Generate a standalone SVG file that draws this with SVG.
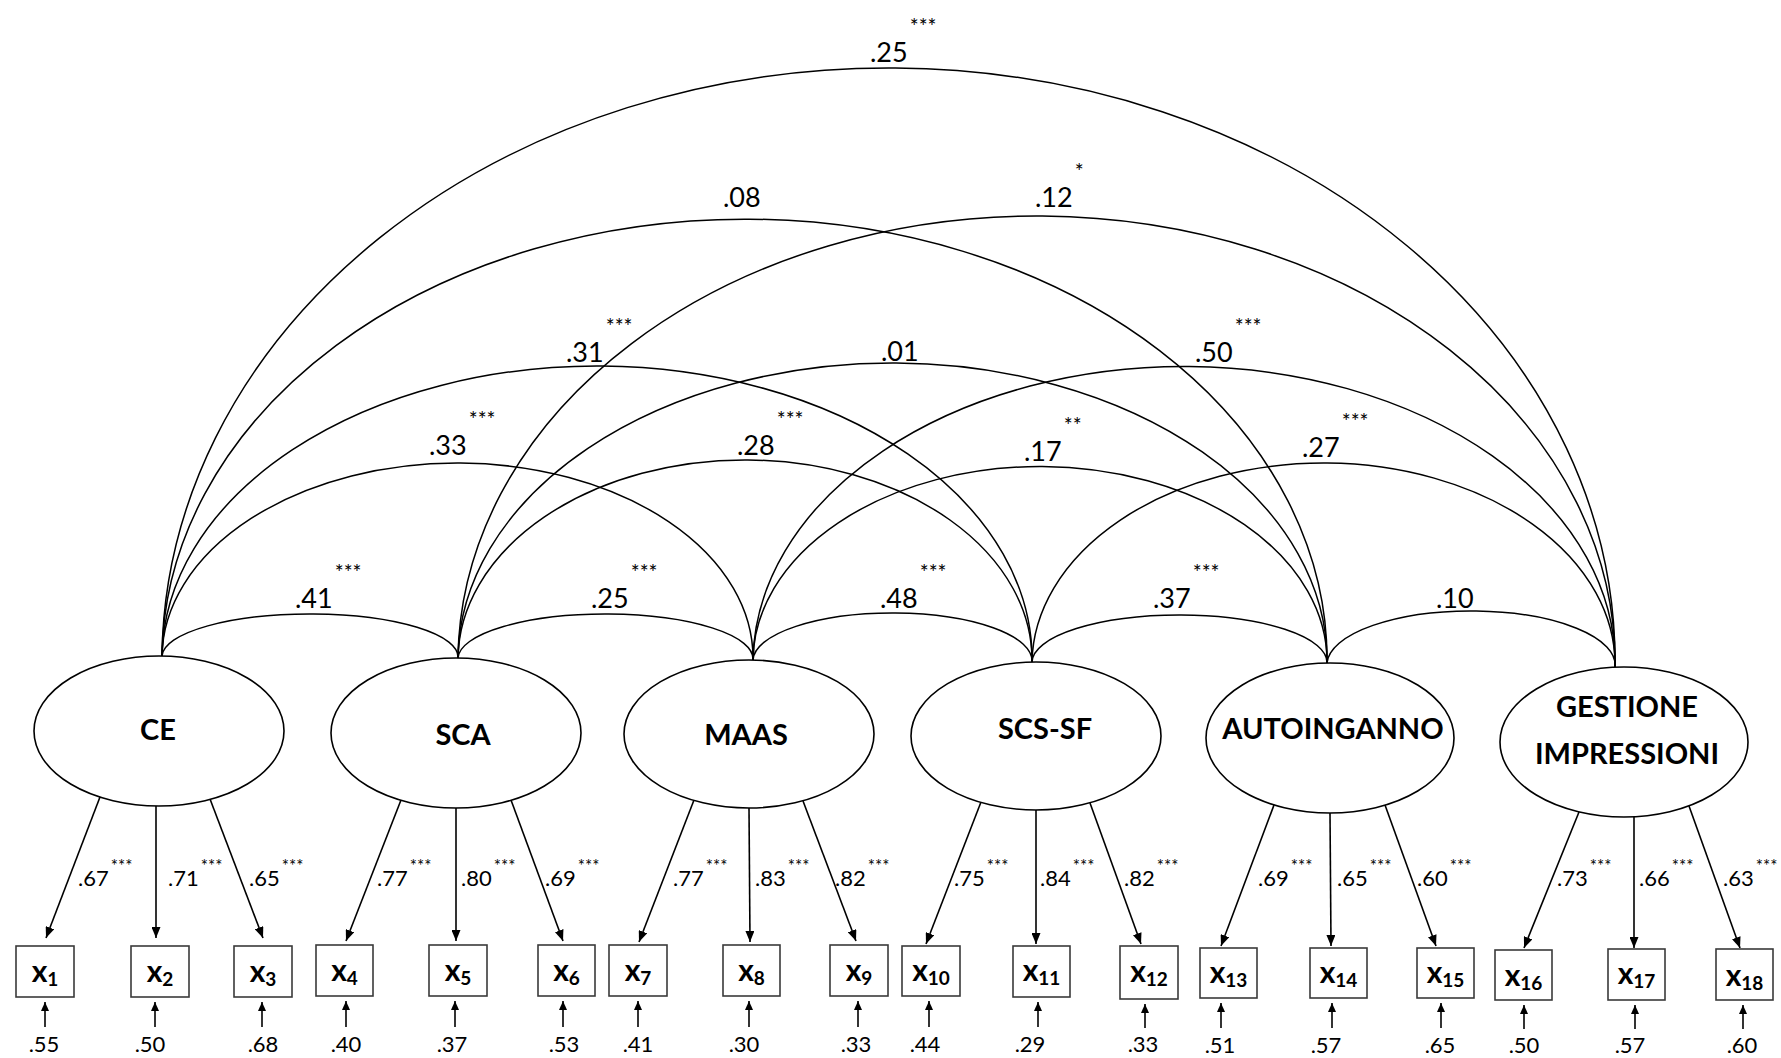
<svg xmlns="http://www.w3.org/2000/svg" width="1781" height="1058" viewBox="0 0 1781 1058">
<style>
text{font-family:Lato,"Liberation Sans",sans-serif;fill:#000}
.lat{fill:#fff;stroke:#000;stroke-width:1.6}
.lt{font-size:29px;font-weight:bold;text-anchor:middle}
.box{fill:#fff;stroke:#3a3a3a;stroke-width:1.6}
.bx{font-size:30px;font-weight:bold;text-anchor:middle}
.sub{font-size:19px}
.arc{fill:none;stroke:#000;stroke-width:1.5}
.ld{stroke:#000;stroke-width:1.6;marker-end:url(#ah)}
.rs{stroke:#000;stroke-width:1.6;marker-end:url(#ah2)}
.al{font-size:27px}
.as{font-size:21px}
.ll{font-size:22px}
.ls{font-size:17px}
.rl{font-size:22px;text-anchor:middle}
</style>
<defs>
<marker id="ah" markerUnits="userSpaceOnUse" markerWidth="12" markerHeight="9" refX="11" refY="4.5" orient="auto"><path d="M0,0 L11,4.5 L0,9 z" fill="#000"/></marker>
<marker id="ah2" markerUnits="userSpaceOnUse" markerWidth="10" markerHeight="8" refX="9" refY="4" orient="auto"><path d="M0,0 L9,4 L0,8 z" fill="#000"/></marker>
</defs>
<rect width="1781" height="1058" fill="#fff"/>

<g id="connectors">
<path class="arc" d="M162,656 A726.5,593.5 0 0 1 1615,667"/>
<path class="arc" d="M162,656 A582.5,440.5 0 0 1 1327,663"/>
<path class="arc" d="M458,658 A578.5,446.5 0 0 1 1615,667"/>
<path class="arc" d="M162,656 A435,293 0 0 1 1032,662"/>
<path class="arc" d="M458,658 A434.5,297.5 0 0 1 1327,663"/>
<path class="arc" d="M753,660 A431,297 0 0 1 1615,667"/>
<path class="arc" d="M162,656 A295.5,195 0 0 1 753,660"/>
<path class="arc" d="M458,658 A287,200 0 0 1 1032,662"/>
<path class="arc" d="M753,660 A287,195 0 0 1 1327,663"/>
<path class="arc" d="M1032,662 A291.5,201.5 0 0 1 1615,667"/>
<path class="arc" d="M162,656 A148,43 0 0 1 458,658"/>
<path class="arc" d="M458,658 A147.5,45 0 0 1 753,660"/>
<path class="arc" d="M753,660 A139.5,48 0 0 1 1032,662"/>
<path class="arc" d="M1032,662 A147.5,47.5 0 0 1 1327,663"/>
<path class="arc" d="M1327,663 A144,54 0 0 1 1615,667"/>

<text class="al" x="870" y="62">.25<tspan class="as" dx="2" dy="-28">***</tspan></text>
<text class="al" x="723" y="207">.08</text>
<text class="al" x="1035" y="207">.12<tspan class="as" dx="2" dy="-28">*</tspan></text>
<text class="al" x="566" y="362">.31<tspan class="as" dx="2" dy="-28">***</tspan></text>
<text class="al" x="881" y="361">.01</text>
<text class="al" x="1195" y="362">.50<tspan class="as" dx="2" dy="-28">***</tspan></text>
<text class="al" x="429" y="455">.33<tspan class="as" dx="2" dy="-28">***</tspan></text>
<text class="al" x="737" y="455">.28<tspan class="as" dx="2" dy="-28">***</tspan></text>
<text class="al" x="1024" y="461">.17<tspan class="as" dx="2" dy="-28">**</tspan></text>
<text class="al" x="1302" y="457">.27<tspan class="as" dx="2" dy="-28">***</tspan></text>
<text class="al" x="295" y="608">.41<tspan class="as" dx="2" dy="-28">***</tspan></text>
<text class="al" x="591" y="608">.25<tspan class="as" dx="2" dy="-28">***</tspan></text>
<text class="al" x="880" y="608">.48<tspan class="as" dx="2" dy="-28">***</tspan></text>
<text class="al" x="1153" y="608">.37<tspan class="as" dx="2" dy="-28">***</tspan></text>
<text class="al" x="1436" y="608">.10</text>

<line class="ld" x1="100" y1="797" x2="46" y2="938"/>
<line class="ld" x1="156" y1="806" x2="156" y2="938"/>
<line class="ld" x1="210" y1="799" x2="263" y2="938"/>
<line class="ld" x1="401" y1="800" x2="346" y2="941"/>
<line class="ld" x1="456" y1="808" x2="456" y2="941"/>
<line class="ld" x1="511" y1="800" x2="563" y2="941"/>
<line class="ld" x1="694" y1="800" x2="639" y2="942"/>
<line class="ld" x1="749" y1="808" x2="750" y2="942"/>
<line class="ld" x1="803" y1="801" x2="856" y2="941"/>
<line class="ld" x1="981" y1="802" x2="926" y2="944"/>
<line class="ld" x1="1036" y1="810" x2="1036" y2="944"/>
<line class="ld" x1="1090" y1="803" x2="1141" y2="944"/>
<line class="ld" x1="1274" y1="805" x2="1221" y2="946"/>
<line class="ld" x1="1330" y1="813" x2="1331" y2="946"/>
<line class="ld" x1="1385" y1="805" x2="1436" y2="946"/>
<line class="ld" x1="1579" y1="812" x2="1524" y2="948"/>
<line class="ld" x1="1634" y1="817" x2="1634" y2="948"/>
<line class="ld" x1="1689" y1="806" x2="1740" y2="948"/>

<text class="ll" x="78" y="886">.67<tspan class="ls" dx="2" dy="-14">***</tspan></text>
<text class="ll" x="168" y="886">.71<tspan class="ls" dx="2" dy="-14">***</tspan></text>
<text class="ll" x="249" y="886">.65<tspan class="ls" dx="2" dy="-14">***</tspan></text>
<text class="ll" x="377" y="886">.77<tspan class="ls" dx="2" dy="-14">***</tspan></text>
<text class="ll" x="461" y="886">.80<tspan class="ls" dx="2" dy="-14">***</tspan></text>
<text class="ll" x="545" y="886">.69<tspan class="ls" dx="2" dy="-14">***</tspan></text>
<text class="ll" x="673" y="886">.77<tspan class="ls" dx="2" dy="-14">***</tspan></text>
<text class="ll" x="755" y="886">.83<tspan class="ls" dx="2" dy="-14">***</tspan></text>
<text class="ll" x="835" y="886">.82<tspan class="ls" dx="2" dy="-14">***</tspan></text>
<text class="ll" x="954" y="886">.75<tspan class="ls" dx="2" dy="-14">***</tspan></text>
<text class="ll" x="1040" y="886">.84<tspan class="ls" dx="2" dy="-14">***</tspan></text>
<text class="ll" x="1124" y="886">.82<tspan class="ls" dx="2" dy="-14">***</tspan></text>
<text class="ll" x="1258" y="886">.69<tspan class="ls" dx="2" dy="-14">***</tspan></text>
<text class="ll" x="1337" y="886">.65<tspan class="ls" dx="2" dy="-14">***</tspan></text>
<text class="ll" x="1417" y="886">.60<tspan class="ls" dx="2" dy="-14">***</tspan></text>
<text class="ll" x="1557" y="886">.73<tspan class="ls" dx="2" dy="-14">***</tspan></text>
<text class="ll" x="1639" y="886">.66<tspan class="ls" dx="2" dy="-14">***</tspan></text>
<text class="ll" x="1723" y="886">.63<tspan class="ls" dx="2" dy="-14">***</tspan></text>

<line class="rs" x1="45" y1="1027" x2="45" y2="1002"/>
<line class="rs" x1="155" y1="1027" x2="155" y2="1002"/>
<line class="rs" x1="262" y1="1027" x2="262" y2="1002"/>
<line class="rs" x1="346" y1="1027" x2="346" y2="1001"/>
<line class="rs" x1="455" y1="1027" x2="455" y2="1001"/>
<line class="rs" x1="563" y1="1027" x2="563" y2="1001"/>
<line class="rs" x1="638" y1="1027" x2="638" y2="1001"/>
<line class="rs" x1="749" y1="1027" x2="749" y2="1001"/>
<line class="rs" x1="858" y1="1027" x2="858" y2="1001"/>
<line class="rs" x1="929" y1="1027" x2="929" y2="1001"/>
<line class="rs" x1="1038" y1="1027" x2="1038" y2="1002"/>
<line class="rs" x1="1145" y1="1028" x2="1145" y2="1004"/>
<line class="rs" x1="1221" y1="1028" x2="1221" y2="1003"/>
<line class="rs" x1="1332" y1="1028" x2="1332" y2="1003"/>
<line class="rs" x1="1441" y1="1028" x2="1441" y2="1003"/>
<line class="rs" x1="1524" y1="1029" x2="1524" y2="1005"/>
<line class="rs" x1="1635" y1="1029" x2="1635" y2="1005"/>
<line class="rs" x1="1743" y1="1029" x2="1743" y2="1005"/>

<text class="rl" x="44" y="1052">.55</text>
<text class="rl" x="150" y="1052">.50</text>
<text class="rl" x="263" y="1052">.68</text>
<text class="rl" x="346" y="1052">.40</text>
<text class="rl" x="452" y="1052">.37</text>
<text class="rl" x="564" y="1052">.53</text>
<text class="rl" x="638" y="1052">.41</text>
<text class="rl" x="744" y="1052">.30</text>
<text class="rl" x="856" y="1052">.33</text>
<text class="rl" x="925" y="1052">.44</text>
<text class="rl" x="1030" y="1052">.29</text>
<text class="rl" x="1143" y="1052">.33</text>
<text class="rl" x="1220" y="1053">.51</text>
<text class="rl" x="1326" y="1053">.57</text>
<text class="rl" x="1440" y="1053">.65</text>
<text class="rl" x="1524" y="1053">.50</text>
<text class="rl" x="1630" y="1053">.57</text>
<text class="rl" x="1742" y="1053">.60</text>
</g>

<g id="CE"><ellipse class="lat" cx="159" cy="731" rx="125" ry="75"/><text class="lt" x="158" y="740">CE</text></g>
<g id="SCA"><ellipse class="lat" cx="456" cy="733" rx="125" ry="75"/><text class="lt" x="463" y="745">SCA</text></g>
<g id="MAAS"><ellipse class="lat" cx="749" cy="734" rx="125" ry="74"/><text class="lt" x="746" y="745">MAAS</text></g>
<g id="SCS-SF"><ellipse class="lat" cx="1036" cy="736" rx="125" ry="74"/><text class="lt" x="1045" y="739">SCS-SF</text></g>
<g id="AUTOINGANNO"><ellipse class="lat" cx="1330" cy="738" rx="124" ry="75"/><text class="lt" x="1333" y="739">AUTOINGANNO</text></g>
<g id="GESTIONE-IMPRESSIONI"><ellipse class="lat" cx="1624" cy="742" rx="124" ry="75"/><text class="lt" x="1627" y="717">GESTIONE</text><text class="lt" x="1627" y="764">IMPRESSIONI</text></g>

<g id="x1"><rect class="box" x="16" y="946" width="58" height="51"/><text class="bx" x="45" y="982">x<tspan class="sub" dy="4">1</tspan></text></g>
<g id="x2"><rect class="box" x="131" y="946" width="58" height="51"/><text class="bx" x="160" y="982">x<tspan class="sub" dy="4">2</tspan></text></g>
<g id="x3"><rect class="box" x="234" y="946" width="58" height="51"/><text class="bx" x="263" y="982">x<tspan class="sub" dy="4">3</tspan></text></g>
<g id="x4"><rect class="box" x="316" y="945" width="57" height="51"/><text class="bx" x="344.5" y="981">x<tspan class="sub" dy="4">4</tspan></text></g>
<g id="x5"><rect class="box" x="429" y="945" width="58" height="51"/><text class="bx" x="458" y="981">x<tspan class="sub" dy="4">5</tspan></text></g>
<g id="x6"><rect class="box" x="538" y="945" width="57" height="51"/><text class="bx" x="566.5" y="981">x<tspan class="sub" dy="4">6</tspan></text></g>
<g id="x7"><rect class="box" x="609" y="945" width="58" height="51"/><text class="bx" x="638" y="981">x<tspan class="sub" dy="4">7</tspan></text></g>
<g id="x8"><rect class="box" x="723" y="945" width="57" height="51"/><text class="bx" x="751.5" y="981">x<tspan class="sub" dy="4">8</tspan></text></g>
<g id="x9"><rect class="box" x="830" y="945" width="58" height="51"/><text class="bx" x="859" y="981">x<tspan class="sub" dy="4">9</tspan></text></g>
<g id="x10"><rect class="box" x="902" y="946" width="58" height="50"/><text class="bx" x="931" y="981">x<tspan class="sub" dy="4">10</tspan></text></g>
<g id="x11"><rect class="box" x="1013" y="946" width="57" height="51"/><text class="bx" x="1041.5" y="981">x<tspan class="sub" dy="4">11</tspan></text></g>
<g id="x12"><rect class="box" x="1120" y="946" width="58" height="53"/><text class="bx" x="1149" y="982">x<tspan class="sub" dy="4">12</tspan></text></g>
<g id="x13"><rect class="box" x="1200" y="948" width="57" height="50"/><text class="bx" x="1228.5" y="983">x<tspan class="sub" dy="4">13</tspan></text></g>
<g id="x14"><rect class="box" x="1310" y="948" width="57" height="50"/><text class="bx" x="1338.5" y="983">x<tspan class="sub" dy="4">14</tspan></text></g>
<g id="x15"><rect class="box" x="1417" y="948" width="57" height="50"/><text class="bx" x="1445.5" y="983">x<tspan class="sub" dy="4">15</tspan></text></g>
<g id="x16"><rect class="box" x="1495" y="950" width="57" height="50"/><text class="bx" x="1523.5" y="986">x<tspan class="sub" dy="4">16</tspan></text></g>
<g id="x17"><rect class="box" x="1608" y="949" width="57" height="51"/><text class="bx" x="1636.5" y="984">x<tspan class="sub" dy="4">17</tspan></text></g>
<g id="x18"><rect class="box" x="1716" y="949" width="57" height="51"/><text class="bx" x="1744.5" y="986">x<tspan class="sub" dy="4">18</tspan></text></g>
</svg>
